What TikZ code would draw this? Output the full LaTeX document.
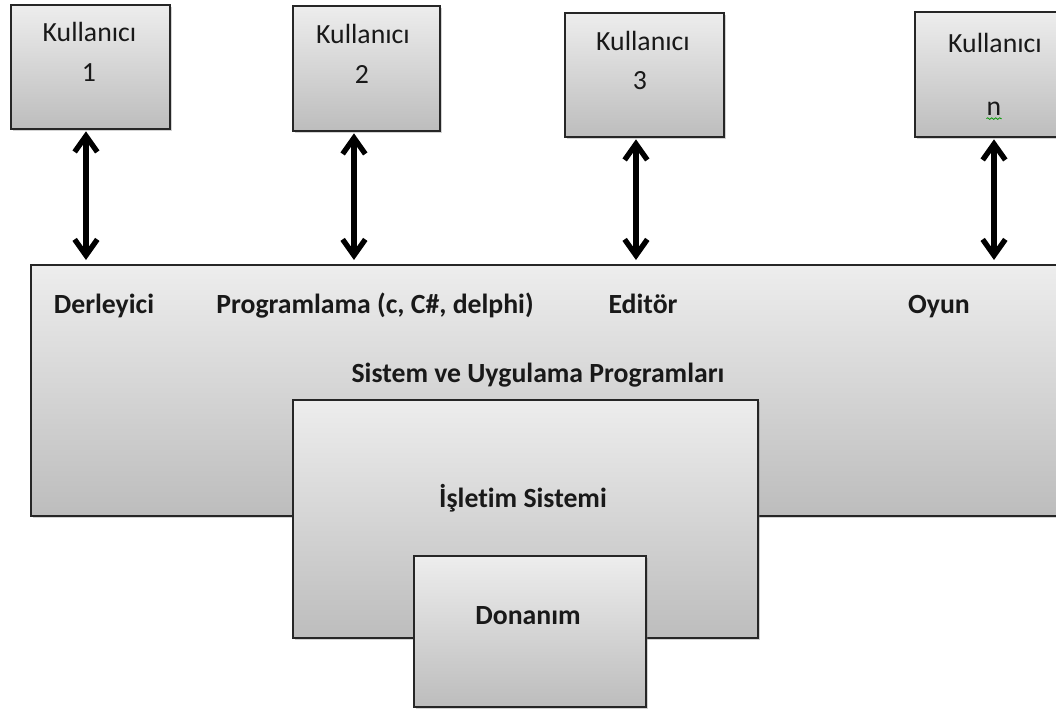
\documentclass[tikz,border=0pt]{standalone}
\usepackage{fontspec}
\setmainfont{Carlito}[Ligatures={NoCommon}]
\usetikzlibrary{arrows.meta,shadows,decorations.pathmorphing}
\begin{document}
\begin{tikzpicture}[x=0.75pt,y=-0.75pt,
  box/.style={draw=black!85,line width=1.5pt,rectangle,inner sep=0pt,anchor=north west,
    top color=black!7,bottom color=black!26,
    drop shadow={opacity=0.35,shadow xshift=1.5pt,shadow yshift=-1.5pt}},
  usr/.style={font=\fontsize{20.8}{24}\selectfont,text=black!90,inner sep=0pt,anchor=base},
  lbl/.style={font=\fontsize{20.8}{24}\selectfont\bfseries,text=black!90,inner sep=0pt,anchor=base},
  link/.style={line width=4pt,{Straight Barb[length=12pt,width=17pt,line width=4pt]}-{Straight Barb[length=12pt,width=17pt,line width=4pt]},shorten <=1pt,shorten >=3pt}]
\useasboundingbox (0,0) rectangle (1056,708);
\clip (0,0) rectangle (1056,708);
% boxes
\node[box,minimum width=119.25pt,minimum height=93pt] (u1) at (10,4) {};
\node[box,minimum width=110.25pt,minimum height=93.75pt] (u2) at (292,5) {};
\node[box,minimum width=119.25pt,minimum height=93pt] (u3) at (564,12) {};
\node[box,minimum width=120pt,minimum height=93.75pt] (un) at (914,11) {};
\node[box,minimum width=784pt,minimum height=188.25pt] (sys) at (30,264) {};
\node[box,minimum width=348.75pt,minimum height=178.5pt] (os) at (292,399) {};
\node[box,minimum width=174pt,minimum height=113.25pt] (hw) at (413,555) {};
% user texts
\node[usr] (k1) at (89.5,41) {Kullanıcı};
\node[usr] (n1) at (89,81) {1};
\node[usr] (k2) at (363,43) {Kullanıcı};
\node[usr] (n2) at (362,83) {2};
\node[usr] (k3) at (643,50) {Kullanıcı};
\node[usr] (n3) at (640,89) {3};
\node[usr] (kn) at (995,52) {Kullanıcı};
\node[usr] (nn) at (994,115) {n};
\draw[green!60!black,line width=0.6pt,decorate,decoration={snake,amplitude=0.6pt,segment length=3pt}] ([yshift=-2.5pt]nn.south west) -- ([yshift=-2.5pt]nn.south east);
% system texts
\node[lbl] (d) at (104,313) {Derleyici};
\node[lbl] (p) at (375,313) {Programlama (c, C\#, delphi)};
\node[lbl] (e) at (643,313) {Editör};
\node[lbl] (o) at (939,313) {Oyun};
\node[lbl] (s) at (538,382) {Sistem ve Uygulama Programları};
\node[lbl] (i) at (523,507) {İşletim Sistemi};
\node[lbl] (h) at (528,624) {Donanım};
% arrows
\draw[link] ([xshift=-3.4pt]u1.south) -- ([xshift=-3.4pt]u1.south |- sys.north);
\draw[link] ([xshift=-9.4pt]u2.south) -- ([xshift=-9.4pt]u2.south |- sys.north);
\draw[link] ([xshift=-6.4pt]u3.south) -- ([xshift=-6.4pt]u3.south |- sys.north);
\draw[link] ([xshift=-0.75pt]un.south) -- ([xshift=-0.75pt]un.south |- sys.north);
\end{tikzpicture}
\end{document}
